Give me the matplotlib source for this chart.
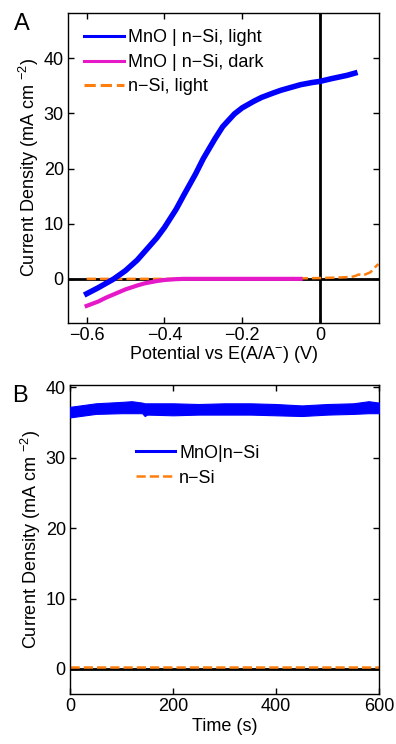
import matplotlib
matplotlib.use("Agg")
import matplotlib.pyplot as plt
import numpy as np

# ── Panel A: J–E curves ───────────────────────────────────────────────────────
light_E = [-0.60, -0.57, -0.55, -0.53, -0.50, -0.47, -0.45, -0.42, -0.40, -0.37, -0.35,
           -0.32, -0.30, -0.27, -0.25, -0.22, -0.20, -0.17, -0.15, -0.12, -0.10,
           -0.07, -0.05, -0.02, 0.00, 0.03, 0.05, 0.07, 0.09]
light_J = [-2.7, -1.6, -0.8, 0.0, 1.5, 3.4, 5.0, 7.4, 9.3, 12.6, 15.2,
           19.0, 21.8, 25.4, 27.6, 29.9, 31.0, 32.2, 32.9, 33.7, 34.2,
           34.8, 35.2, 35.6, 35.8, 36.3, 36.6, 36.9, 37.3]

dark_E = [-0.60, -0.57, -0.55, -0.52, -0.50, -0.47, -0.45, -0.42, -0.40, -0.37,
          -0.35, -0.30, -0.20, -0.10, -0.05]
dark_J = [-4.9, -4.1, -3.4, -2.5, -1.9, -1.2, -0.8, -0.4, -0.2, -0.05,
          0.0, 0.0, 0.0, 0.0, 0.0]

nsi_E = [-0.60, -0.40, -0.20, -0.05, 0.00, 0.05, 0.08, 0.09, 0.10, 0.11, 0.13, 0.15]
nsi_J = [0.0, 0.0, 0.05, 0.1, 0.15, 0.25, 0.35, 0.5, 0.8, 0.6, 1.2, 2.7]

# ── Panel B: chronoamperometry (band of the noisy MnO|n-Si trace) ─────────────
t_s     = [0, 20, 50, 100, 120, 140, 145, 150, 200, 250, 300, 350, 400, 450, 500, 550, 580, 600]
j_upper = [37.2, 37.4, 37.7, 37.9, 38.0, 37.8, 37.7, 37.7, 37.7, 37.6, 37.7, 37.7, 37.6, 37.4, 37.6, 37.7, 38.0, 37.8]
j_lower = [35.7, 35.9, 36.2, 36.3, 36.3, 36.3, 35.9, 36.1, 36.0, 36.1, 36.1, 36.1, 36.0, 35.9, 36.1, 36.2, 36.3, 36.3]
nsi_t   = [0, 600]
nsi_Jt  = [0.3, 0.3]

BLUE, PINK, ORANGE = "#0000ff", "#e619c8", "#ff7f0e"
FS = 13

plt.rcParams.update({
    "font.family": ["Liberation Sans", "DejaVu Sans"],
    "font.size": FS,
    "axes.linewidth": 1.0,
    "mathtext.fontset": "custom",
    "mathtext.rm": "Liberation Sans",
})

fig = plt.figure(figsize=(3.96, 7.44), dpi=100)
axA = fig.add_axes([68/396, 1 - 323/744, 311/396, 310/744])
axB = fig.add_axes([70/396, 1 - 694/744, 309/396, 309/744])

for ax in (axA, axB):
    ax.tick_params(direction="in", top=True, right=True, length=4, width=1,
                   labelsize=FS, pad=3)

# Panel A
axA.axhline(0, color="black", lw=2, zorder=1)
axA.axvline(0, color="black", lw=2, zorder=1)
axA.plot(light_E, light_J, color=BLUE, lw=4, label="MnO | n\u2212Si, light", zorder=3)
axA.plot(dark_E, dark_J, color=PINK, lw=3, label="MnO | n\u2212Si, dark", zorder=3)
axA.plot(nsi_E, nsi_J, color=ORANGE, lw=1.8, ls="--", label="n\u2212Si, light", zorder=2)
axA.set_xlim(-0.648, 0.152)
axA.set_ylim(-8, 48.2)
axA.set_xticks([-0.6, -0.4, -0.2, 0])
axA.set_xticklabels(["\u22120.6", "\u22120.4", "\u22120.2", "0"])
axA.set_yticks([0, 10, 20, 30, 40])
axA.set_xlabel("Potential vs E(A/A$^{-}$) (V)", labelpad=0)
axA.set_ylabel("Current Density (mA cm $^{-2}$)", labelpad=2)
leg = axA.legend(loc="upper left", bbox_to_anchor=(0.0, 1.0), frameon=False, fontsize=FS,
                 handlelength=2.2, handletextpad=0.2, labelspacing=0.42, borderaxespad=0.5)
for h in leg.get_lines():
    h.set_linewidth(2.2)
fig.text(14/396, 1 - 24/744, "A", fontsize=17, ha="left", va="center")

# Panel B
axB.axhline(0, color="black", lw=2, zorder=1)
axB.fill_between(t_s, j_lower, j_upper, color=BLUE, lw=0.8, edgecolor=BLUE, zorder=3)
axB.plot([], [], color=BLUE, lw=2.2, label="MnO|n\u2212Si")
axB.plot(nsi_t, nsi_Jt, color=ORANGE, lw=1.8, ls="--", label="n\u2212Si", zorder=2)
axB.set_xlim(0, 600)
axB.set_ylim(-3.55, 40.3)
axB.set_xticks([0, 200, 400, 600])
axB.set_yticks([0, 10, 20, 30, 40])
axB.set_xlabel("Time (s)", labelpad=2)
axB.set_ylabel("Current Density (mA cm $^{-2}$)", labelpad=2)
axB.legend(loc="upper left", bbox_to_anchor=(0.16, 0.86), frameon=False, fontsize=FS,
           handlelength=2.2, handletextpad=0.2, labelspacing=0.45)
fig.text(12/396, 1 - 396/744, "B", fontsize=17, ha="left", va="center")

fig.savefig("out.png", dpi=100)
